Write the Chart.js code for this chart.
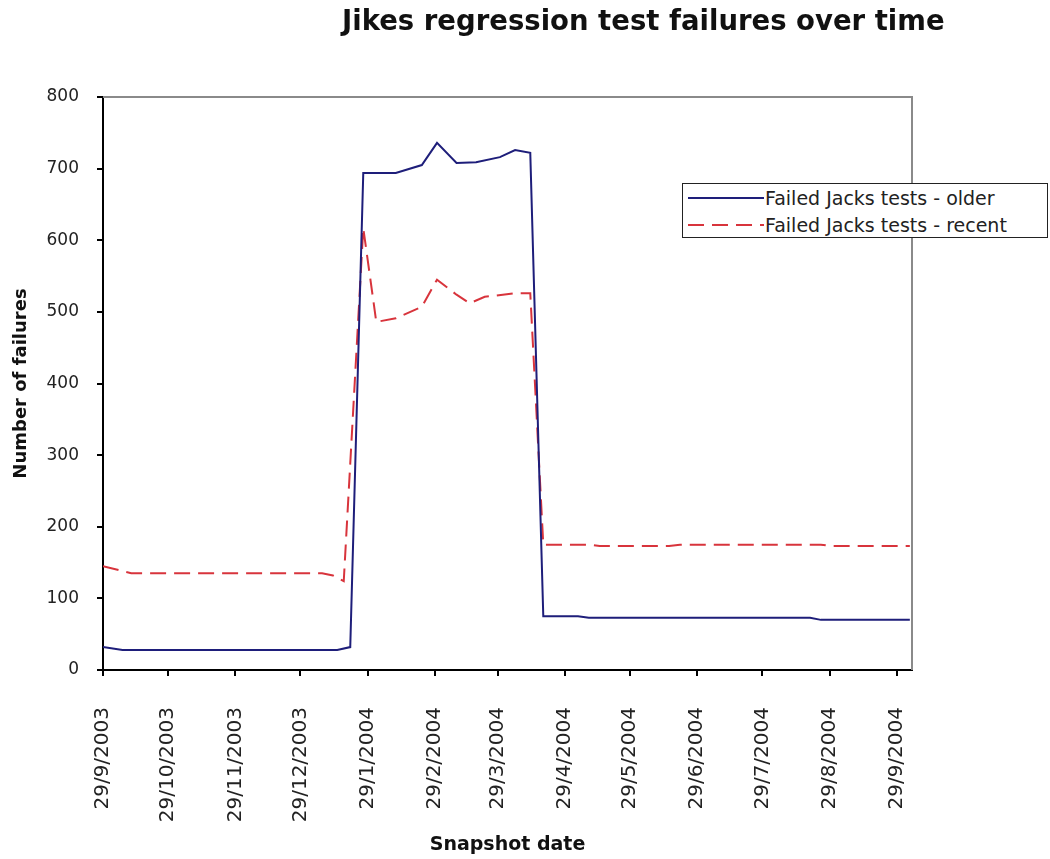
<!DOCTYPE html>
<html>
<head>
<meta charset="utf-8">
<script src="https://cdn.jsdelivr.net/npm/chart.js@4.4.1/dist/chart.umd.min.js"></script>
<style>
  body { margin: 0; background: #fff; font-family: "DejaVu Sans", Verdana, sans-serif; }
  #wrap { position: relative; width: 1050px; height: 859px; }
  #title { position: absolute; left: 342px; top: 6px; font-size: 27.5px; line-height: 28px; font-weight: bold; color: #111; white-space: nowrap; }
  #legend { position: absolute; left: 682px; top: 183px; width: 364px; height: 53px; border: 1.5px solid #222; background: #fff; }
  .row { position: absolute; left: 5px; height: 27px; display: flex; align-items: center; font-size: 19px; color: #222; white-space: nowrap; }
  .row svg { margin-right: 1px; }
</style>
</head>
<body>
<div id="wrap">
  <canvas id="chart" width="1050" height="859"></canvas>
  <div id="title">Jikes regression test failures over time</div>
  <div id="legend"></div>
</div>
<script>
// x values are days since 29/9/2003
const tickDays = [0, 30, 61, 91, 122, 153, 182, 213, 243, 274, 304, 335, 366];
const tickLabels = ['29/9/2003', '29/10/2003', '29/11/2003', '29/12/2003', '29/1/2004', '29/2/2004',
  '29/3/2004', '29/4/2004', '29/5/2004', '29/6/2004', '29/7/2004', '29/8/2004', '29/9/2004'];

const seriesNames = ['Failed Jacks tests - older', 'Failed Jacks tests - recent'];

const olderDays   = [0, 9, 60, 108, 114, 120, 135, 147, 154, 163, 172, 183, 190, 197, 203, 219, 224, 260, 300, 326, 331, 372];
const olderValues = [32, 28, 28, 28, 32, 694, 694, 705, 736, 708, 709, 716, 726, 722, 75, 75, 73, 73, 73, 73, 70, 70];

const recentDays   = [0, 13, 60, 101, 106, 111, 120, 126, 135, 147, 154, 163, 169, 176, 190, 197, 203, 224, 229, 261, 266, 331, 336, 372];
const recentValues = [145, 135, 135, 135, 132, 124, 617, 486, 491, 507, 545, 524, 512, 521, 526, 526, 175, 175, 173, 173, 175, 175, 173, 173];

const colors = ['#1e1e7a', '#d8343c'];
const dashes = [[], [16, 8]];

const toPoints = (xs, ys) => xs.map((x, i) => ({ x: x, y: ys[i] }));

// legend (html, drawn over the plot like the original)
const legendEl = document.getElementById('legend');
seriesNames.forEach((name, i) => {
  const dash = dashes[i].length ? `stroke-dasharray="${dashes[i].join(' ')}"` : '';
  legendEl.innerHTML += `<div class="row" style="top:${i * 27}px">
    <svg width="76" height="4"><line x1="0" y1="2" x2="76" y2="2" stroke="${colors[i]}" stroke-width="2" ${dash}/></svg>${name}</div>`;
});

// gray frame on top and right of plot area
const frame = {
  id: 'frame',
  beforeDatasetsDraw(chart) {
    const { ctx, chartArea: a } = chart;
    ctx.save();
    ctx.strokeStyle = '#8a8a8a';
    ctx.lineWidth = 2;
    ctx.beginPath();
    ctx.moveTo(a.left, a.top);
    ctx.lineTo(a.right, a.top);
    ctx.lineTo(a.right, a.bottom);
    ctx.stroke();
    ctx.restore();
  }
};

new Chart(document.getElementById('chart'), {
  type: 'line',
  data: {
    datasets: [{
      label: seriesNames[0],
      data: toPoints(olderDays, olderValues),
      borderColor: colors[0],
      borderWidth: 2,
      pointRadius: 0,
      tension: 0
    }, {
      label: seriesNames[1],
      data: toPoints(recentDays, recentValues),
      borderColor: colors[1],
      borderWidth: 2,
      borderDash: dashes[1],
      pointRadius: 0,
      tension: 0
    }]
  },
  options: {
    responsive: false,
    animation: false,
    layout: { padding: { left: 0, top: 97, right: 138, bottom: 0 } },
    plugins: {
      legend: { display: false },
      tooltip: { enabled: false }
    },
    scales: {
      x: {
        type: 'linear',
        min: 0,
        max: 373,
        afterBuildTicks: (scale) => { scale.ticks = tickDays.map(v => ({ value: v })); },
        afterFit: (scale) => { scale.height = 189; },
        ticks: {
          minRotation: 90,
          maxRotation: 90,
          padding: 31,
          color: '#222',
          font: { family: 'DejaVu Sans', size: 20 },
          callback: (v) => tickLabels[tickDays.indexOf(v)]
        },
        grid: { drawOnChartArea: false, drawTicks: true, tickLength: 6, color: '#000', lineWidth: 2 },
        border: { color: '#000', width: 2 },
        title: {
          display: true,
          text: 'Snapshot date',
          color: '#111',
          font: { family: 'DejaVu Sans', size: 19, weight: 'bold' },
          padding: { top: 0, bottom: 3 }
        }
      },
      y: {
        min: 0,
        max: 800,
        afterFit: (scale) => { scale.width = 103; },
        ticks: {
          stepSize: 100,
          padding: 18,
          color: '#222',
          font: { family: 'DejaVu Sans', size: 17 }
        },
        grid: { drawOnChartArea: false, drawTicks: true, tickLength: 6, color: '#000', lineWidth: 2 },
        border: { color: '#000', width: 2 },
        title: {
          display: true,
          text: 'Number of failures',
          color: '#111',
          font: { family: 'DejaVu Sans', size: 18, weight: 'bold' },
          padding: { top: 11, bottom: 0 }
        }
      }
    }
  },
  plugins: [frame]
});
</script>
</body>
</html>
